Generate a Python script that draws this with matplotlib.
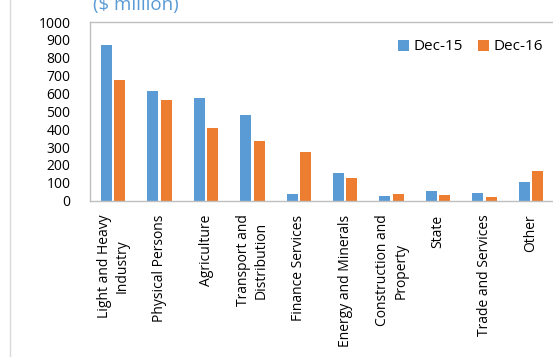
import numpy as np
import matplotlib.pyplot as plt
from matplotlib.lines import Line2D

plt.rcParams['font.family'] = ['Open Sans', 'DejaVu Sans']

sectors = ['Light and Heavy\nIndustry', 'Physical Persons', 'Agriculture',
           'Transport and\nDistribution', 'Finance Services', 'Energy and Minerals',
           'Construction and\nProperty', 'State', 'Trade and Services', 'Other']
dec15 = [873, 615, 572, 480, 36, 154, 28, 54, 41, 105]
dec16 = [673, 566, 409, 336, 271, 126, 36, 32, 19, 166]

blue = '#5B9BD5'
orange = '#ED7D31'
grey = '#BFBFBF'

fig = plt.figure(figsize=(5.53, 3.57), dpi=100)
ax = fig.add_axes([90 / 553, 1 - 200.7 / 357, 464 / 553, (200.7 - 22) / 357])

x = np.arange(len(sectors))
w = 0.235
ax.bar(x - w / 2 - 0.028, dec15, w, color=blue, label='Dec-15')
ax.bar(x + w / 2 + 0.028, dec16, w, color=orange, label='Dec-16')

ax.set_xlim(-0.5, len(sectors) - 0.5)
ax.set_ylim(0, 1000)
ax.set_yticks(range(0, 1001, 100))
ax.set_xticks(x)
ax.set_xticklabels(sectors, rotation=90, ha='center', va='top',
                   multialignment='center', linespacing=1.3)
ax.tick_params(axis='both', length=0, labelsize=10, colors='black')
ax.tick_params(axis='y', pad=14)
ax.tick_params(axis='x', pad=10)

for side in ['left', 'top', 'bottom', 'right']:
    ax.spines[side].set_color(grey)
    ax.spines[side].set_linewidth(1)

ax.legend(loc='center right', bbox_to_anchor=(543 / 553, 1 - 47 / 357),
          bbox_transform=fig.transFigure, ncol=2, frameon=False, fontsize=11,
          handlelength=0.7, handleheight=0.7, handletextpad=0.3,
          columnspacing=1.0, borderpad=0, borderaxespad=0)

fig.text(93 / 553, 1 - 10 / 357, '($ million)', color=blue, fontsize=13.5,
         ha='left', va='baseline')

# outer frame line of the chart block
fig.add_artist(Line2D([10 / 553, 10 / 553], [0, 1], color='#D9D9D9', lw=1,
                      transform=fig.transFigure))

fig.savefig('out.png', dpi=100)
